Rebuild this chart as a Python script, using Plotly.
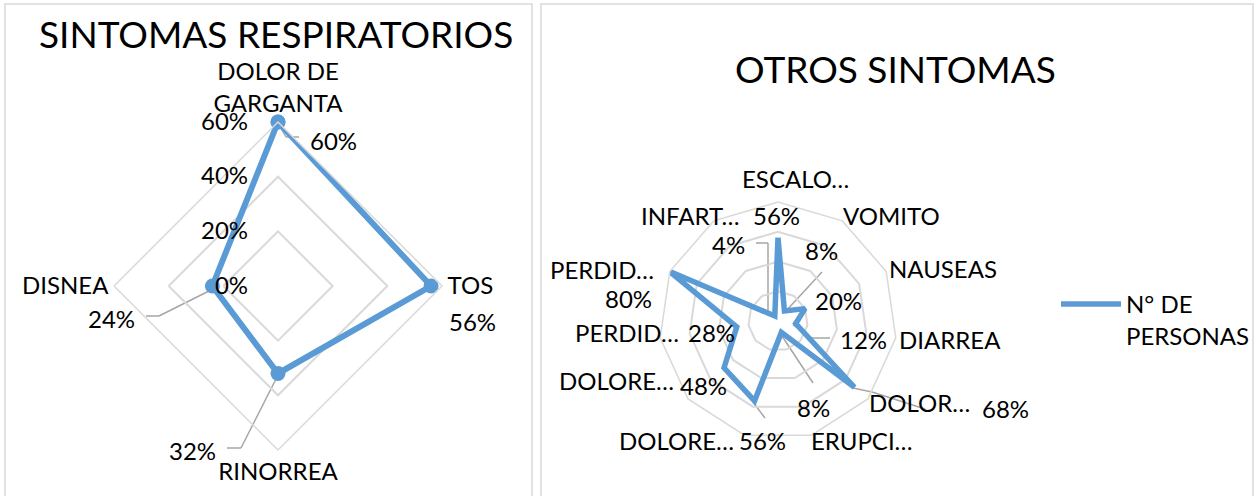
import plotly.graph_objects as go

W, H = 1256, 496

# ---------------- data ----------------
resp_categories = ["DOLOR DE<br>GARGANTA", "TOS", "RINORREA", "DISNEA"]
resp_values = [0.60, 0.56, 0.32, 0.24]

otros_labels = ["ESCALO…", "VOMITO", "NAUSEAS", "DIARREA", "DOLOR…", "ERUPCI…",
                "DOLORE…", "DOLORE…", "PERDID…", "PERDID…", "INFART…"]
otros_values = [0.56, 0.08, 0.20, 0.12, 0.68, 0.08, 0.56, 0.48, 0.28, 0.80, 0.04]

series_name = "N° DE<br>PERSONAS"
resp_radial_ticks = [0, 0.2, 0.4, 0.6]
otros_radial_ticks = [0, 0.2, 0.4, 0.6, 0.8]

# ---------------- layout helpers (pixel positions -> paper) ----------------
def px(x, y):
    return x / W, 1 - y / H

BLUE = "#5B9BD5"
GRID = "#D9D9D9"
LEAD = "#A6A6A6"
FONT = "Lato"
FS = 24

# unique keys for the category axis of the right chart
otros_keys = [f"c{i}" for i in range(len(otros_labels))]

fig = go.Figure()

fig.add_trace(go.Scatterpolar(
    r=resp_values + resp_values[:1],
    theta=resp_categories + resp_categories[:1],
    mode="lines+markers",
    line=dict(color=BLUE, width=6),
    marker=dict(size=15, color=BLUE),
    showlegend=False,
    subplot="polar",
    hoverinfo="skip",
))

fig.add_trace(go.Scatterpolar(
    r=otros_values + otros_values[:1],
    theta=otros_keys + otros_keys[:1],
    mode="lines",
    line=dict(color=BLUE, width=5.5),
    name=series_name,
    showlegend=True,
    subplot="polar2",
    hoverinfo="skip",
))

# ---------------- label positions (layout) ----------------
resp_label_pos = [(333, 140), (472, 321), (192, 450), (112, 318)]
otros_label_pos = [(776, 215), (821, 250), (838, 300), (863, 339), (1005, 408), (813, 407),
                   (763, 440), (703, 385), (711, 332), (628, 298), (728, 245)]
otros_cat_pos = [(795, 178), (892, 215), (943, 268), (950, 339), (920, 402), (862, 440),
                 (676, 440), (616, 380), (627, 332), (602, 269), (690, 215)]

def ann(x, y, text, size):
    xx, yy = px(x, y)
    return dict(x=xx, y=yy, xref="paper", yref="paper", text=text, showarrow=False,
                xanchor="center", yanchor="middle",
                font=dict(family=FONT, size=size, color="#000"))

annotations = []
for v, (x, y) in zip(resp_values, resp_label_pos):
    annotations.append(ann(x, y, f"{round(v*100)}%", FS))
for v, (x, y) in zip(otros_values, otros_label_pos):
    annotations.append(ann(x, y, f"{round(v*100)}%", FS))
for lab, (x, y) in zip(otros_labels, otros_cat_pos):
    annotations.append(ann(x, y, lab, FS))

# titles
annotations.append(ann(276, 33, "SINTOMAS RESPIRATORIOS", 37))
annotations.append(ann(896, 68, "OTROS SINTOMAS", 37))

# ---------------- leader lines & panel borders ----------------
leaders = [
    [(278, 123), (286, 137), (299, 137)],
    [(211, 290), (159, 316), (146, 316)],
    [(278, 375), (241, 448), (227, 448)],
    [(785, 312), (822, 272)],
    [(793, 325), (812, 338), (830, 338)],
    [(853, 388), (872, 392), (925, 409)],
    [(780, 333), (813, 383)],
    [(753, 402), (765, 418)],
    [(768, 316), (768, 243), (756, 243)],
]
shapes = []
for pts in leaders:
    for (x0, y0), (x1, y1) in zip(pts[:-1], pts[1:]):
        a0, b0 = px(x0, y0)
        a1, b1 = px(x1, y1)
        shapes.append(dict(type="line", xref="paper", yref="paper", x0=a0, y0=b0, x1=a1, y1=b1,
                           line=dict(color=LEAD, width=1.5), layer="below"))

for (x0, y0, x1, y1) in [(5, 4, 532, 520), (541, 4, 1253, 520)]:
    a0, b0 = px(x0, y0)
    a1, b1 = px(x1, y1)
    shapes.append(dict(type="rect", xref="paper", yref="paper", x0=a0, y0=b1, x1=a1, y1=b0,
                       line=dict(color=GRID, width=1.5), layer="below"))

# ---------------- polar domains ----------------
lx0, ly1 = px(114, 122)
lx1, ly0 = px(442, 450)
rx0, ry1 = px(659, 202)
rx1, ry0 = px(897, 440)

fig.update_layout(
    width=W, height=H,
    margin=dict(l=0, r=0, t=0, b=0),
    paper_bgcolor="white",
    font=dict(family=FONT, size=FS, color="#000"),
    polar=dict(
        domain=dict(x=[lx0, lx1], y=[ly0, ly1]),
        bgcolor="rgba(0,0,0,0)",
        gridshape="linear",
        radialaxis=dict(range=[0, 0.6], tickvals=resp_radial_ticks, tickformat=".0%",
                        angle=90, side="counterclockwise", showline=False,
                        gridcolor=GRID, gridwidth=1.5, ticks="outside", ticklen=21,
                        tickcolor="rgba(0,0,0,0)", tickangle=90,
                        tickfont=dict(family=FONT, size=FS, color="#000")),
        angularaxis=dict(rotation=90, direction="clockwise", showgrid=False, showline=True,
                         linecolor=GRID, linewidth=1.5, ticks="",
                         tickfont=dict(family=FONT, size=FS, color="#000")),
    ),
    polar2=dict(
        domain=dict(x=[rx0, rx1], y=[ry0, ry1]),
        bgcolor="rgba(0,0,0,0)",
        gridshape="linear",
        radialaxis=dict(range=[0, 0.8], tickvals=otros_radial_ticks, showticklabels=False,
                        showline=False, ticks="", gridcolor=GRID, gridwidth=1.5),
        angularaxis=dict(rotation=90, direction="clockwise", showgrid=False, showline=True,
                         linecolor=GRID, linewidth=1.5, ticks="", showticklabels=False,
                         tickmode="array", tickvals=otros_keys, ticktext=otros_labels),
    ),
    legend=dict(x=1056 / W, y=1 - 282 / H, xanchor="left", yanchor="top",
                valign="top", font=dict(family=FONT, size=FS, color="#000"),
                bgcolor="rgba(0,0,0,0)", itemwidth=60),
    annotations=annotations,
    shapes=shapes,
)

fig.write_html("out.html", config={"displayModeBar": False},
               post_script="document.body.style.margin='0';")
